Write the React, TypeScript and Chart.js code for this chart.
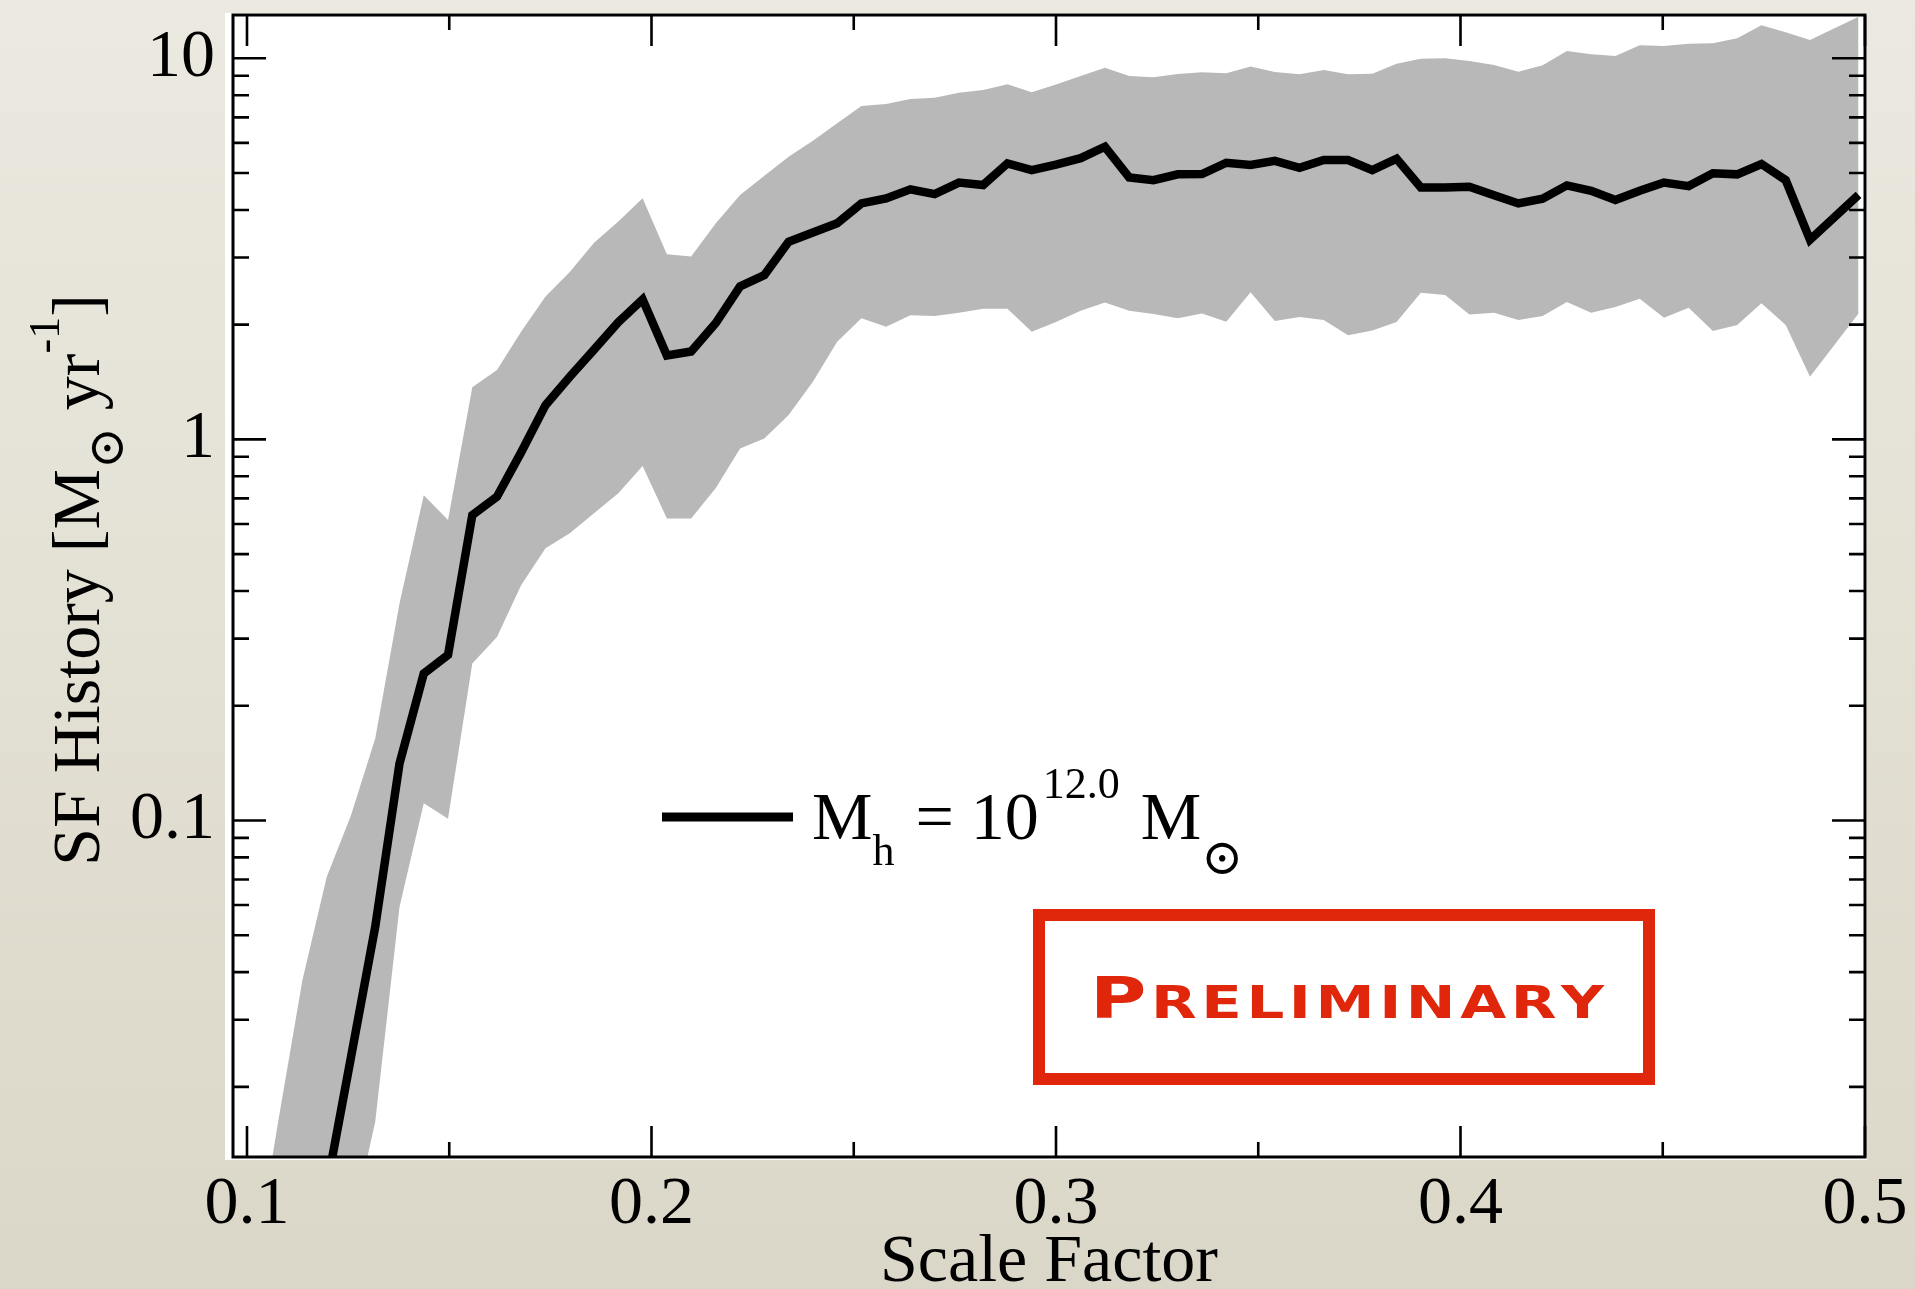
import React, { useEffect, useRef } from 'react';
import { Chart, registerables } from 'chart.js';

Chart.register(...registerables);

// ---------- data ----------
const SCALE_FACTOR = [
  0.1016, 0.1077, 0.1137, 0.1197, 0.1257, 0.1317, 0.1377, 0.1437, 0.1497, 0.1557,
  0.1618, 0.1678, 0.1738, 0.1798, 0.1858, 0.1918, 0.1978, 0.2038, 0.2098, 0.2159,
  0.2219, 0.2279, 0.2339, 0.2399, 0.2459, 0.2519, 0.2580, 0.2640, 0.2700, 0.2760,
  0.2820, 0.2880, 0.2940, 0.3000, 0.3061, 0.3121, 0.3181, 0.3241, 0.3301, 0.3361,
  0.3421, 0.3481, 0.3541, 0.3602, 0.3662, 0.3722, 0.3782, 0.3842, 0.3902, 0.3962,
  0.4022, 0.4083, 0.4143, 0.4203, 0.4263, 0.4323, 0.4383, 0.4443, 0.4503, 0.4564,
  0.4624, 0.4684, 0.4744, 0.4804, 0.4864, 0.4984,
];

const SFR_MEAN = [
  null, null, null, 0.0109, 0.0239, 0.0526, 0.141, 0.243, 0.272, 0.633,
  0.707, 0.926, 1.23, 1.46, 1.72, 2.03, 2.33, 1.66, 1.70, 2.02,
  2.52, 2.70, 3.30, 3.49, 3.69, 4.16, 4.29, 4.53, 4.40, 4.72,
  4.65, 5.30, 5.09, 5.26, 5.47, 5.86, 4.87, 4.79, 4.96, 4.97,
  5.32, 5.25, 5.38, 5.16, 5.41, 5.41, 5.09, 5.45, 4.58, 4.58,
  4.60, 4.37, 4.16, 4.28, 4.64, 4.49, 4.25, 4.49, 4.72, 4.62,
  4.99, 4.96, 5.28, 4.79, 3.34, 4.38,
];

const SFR_UPPER = [
  0.00652, 0.0162, 0.0381, 0.0711, 0.103, 0.164, 0.371, 0.714, 0.614, 1.37,
  1.52, 1.92, 2.37, 2.75, 3.28, 3.73, 4.29, 3.06, 3.02, 3.69,
  4.38, 4.92, 5.52, 6.08, 6.75, 7.50, 7.59, 7.82, 7.88, 8.12,
  8.26, 8.55, 8.14, 8.53, 8.99, 9.45, 8.99, 8.92, 9.10, 9.19,
  9.13, 9.51, 9.21, 9.08, 9.32, 9.08, 9.11, 9.68, 9.98, 10.0,
  9.84, 9.60, 9.22, 9.59, 10.45, 10.24, 10.14, 10.82, 10.77, 10.92,
  10.95, 11.28, 12.21, 11.70, 11.17, 12.86,
];

const SFR_LOWER = [
  0.0005, 0.001, 0.002, 0.004, 0.00836, 0.0162, 0.0593, 0.111, 0.101, 0.258,
  0.303, 0.415, 0.518, 0.567, 0.640, 0.722, 0.851, 0.620, 0.620, 0.745,
  0.947, 1.006, 1.158, 1.416, 1.804, 2.078, 1.975, 2.116, 2.107, 2.149,
  2.202, 2.202, 1.916, 2.032, 2.176, 2.288, 2.176, 2.132, 2.078, 2.141,
  2.035, 2.431, 2.044, 2.094, 2.057, 1.875, 1.932, 2.032, 2.425, 2.391,
  2.128, 2.149, 2.057, 2.107, 2.293, 2.149, 2.225, 2.339, 2.086, 2.215,
  1.924, 1.995, 2.275, 1.995, 1.460, 2.141,
];

const X_MIN = 0.09654;
const X_MAX = 0.5;
const Y_MIN = 0.01309;
const Y_MAX = 12.99;

const X_MAJOR = [0.1, 0.2, 0.3, 0.4, 0.5];
const X_MAJOR_LABELS = ['0.1', '0.2', '0.3', '0.4', '0.5'];
const X_MINOR = [0.15, 0.25, 0.35, 0.45];

const Y_MAJOR = [0.1, 1, 10];
const Y_MAJOR_LABELS = ['0.1', '1', '10'];
const Y_MINOR = [
  0.02, 0.03, 0.04, 0.05, 0.06, 0.07, 0.08, 0.09,
  0.2, 0.3, 0.4, 0.5, 0.6, 0.7, 0.8, 0.9,
  2, 3, 4, 5, 6, 7, 8, 9,
];

const X_TITLE = 'Scale Factor';
const STAMP_TEXT = 'PRELIMINARY';

// ---------- styling ----------
const SERIF = '"Liberation Serif", "Times New Roman", "DejaVu Serif", serif';
const SYMBOL = '"DejaVu Serif", "DejaVu Sans", serif';
const STAMP_RED = '#e0270b';
const BAND_GREY = '#b8b8b8';

type Piece = { text: string; size: number; dy: number; font?: string; gap?: number };

const Y_TITLE_PIECES: Piece[] = [
  { text: 'SF History [M', size: 68, dy: 0 },
  { text: '\u2299', size: 50, dy: 24, font: SYMBOL },
  { text: ' yr', size: 68, dy: 0 },
  { text: '-1', size: 44, dy: -40 },
  { text: ']', size: 68, dy: 0 },
];

const LEGEND_PIECES: Piece[] = [
  { text: 'M', size: 68, dy: 0 },
  { text: 'h', size: 44, dy: 26 },
  { text: ' = 10', size: 68, dy: 0, gap: 4 },
  { text: '12.0', size: 44, dy: -41, gap: 4 },
  { text: ' M', size: 68, dy: 0, gap: 4 },
  { text: '\u2299', size: 50, dy: 35, font: SYMBOL },
];

function piecesWidth(ctx: CanvasRenderingContext2D, pieces: Piece[]) {
  let w = 0;
  for (const p of pieces) {
    ctx.font = `${p.size}px ${p.font || SERIF}`;
    w += (p.gap || 0) + ctx.measureText(p.text).width;
  }
  return w;
}

function drawPieces(ctx: CanvasRenderingContext2D, pieces: Piece[], x: number, y: number) {
  let cx = x;
  for (const p of pieces) {
    cx += p.gap || 0;
    ctx.font = `${p.size}px ${p.font || SERIF}`;
    ctx.fillText(p.text, cx, y + p.dy);
    cx += ctx.measureText(p.text).width;
  }
}

const decorPlugin = {
  id: 'decor',
  beforeDraw(chart: any) {
    const { ctx, width, height, chartArea: a } = chart;
    ctx.save();
    const g = ctx.createLinearGradient(0, 0, 0, height);
    g.addColorStop(0, '#ebe9e0');
    g.addColorStop(1, '#dbd7c8');
    ctx.fillStyle = g;
    ctx.fillRect(0, 0, width, height);
    ctx.fillStyle = '#ffffff';
    ctx.fillRect(a.left - 8, a.top - 2, a.right - a.left + 10, a.bottom - a.top + 5);
    ctx.restore();
  },
  afterDatasetsDraw(chart: any) {
    const { ctx, chartArea: a, scales } = chart;
    const xs = scales.x;
    const ys = scales.y;
    ctx.save();
    ctx.strokeStyle = '#000';
    ctx.lineWidth = 2.6;
    ctx.lineCap = 'butt';
    ctx.beginPath();
    const yTick = (v: number, len: number) => {
      const p = ys.getPixelForValue(v);
      if (p < a.top || p > a.bottom) return;
      ctx.moveTo(a.left, p);
      ctx.lineTo(a.left + len, p);
      ctx.moveTo(a.right, p);
      ctx.lineTo(a.right - len, p);
    };
    const xTick = (v: number, len: number) => {
      const p = xs.getPixelForValue(v);
      if (p < a.left || p > a.right) return;
      ctx.moveTo(p, a.bottom);
      ctx.lineTo(p, a.bottom - len);
      ctx.moveTo(p, a.top);
      ctx.lineTo(p, a.top + len);
    };
    Y_MAJOR.forEach((v) => yTick(v, 33));
    Y_MINOR.forEach((v) => yTick(v, 16));
    X_MAJOR.forEach((v) => xTick(v, 31));
    X_MINOR.forEach((v) => xTick(v, 15));
    ctx.stroke();
    ctx.lineWidth = 3;
    ctx.strokeRect(a.left, a.top, a.right - a.left, a.bottom - a.top);
    ctx.restore();
  },
  afterDraw(chart: any) {
    const { ctx, chartArea: a } = chart;
    ctx.save();
    ctx.fillStyle = '#000';
    ctx.textBaseline = 'alphabetic';
    ctx.textAlign = 'left';

    // x-axis title
    ctx.font = `68px ${SERIF}`;
    ctx.textAlign = 'center';
    ctx.fillText(X_TITLE, (a.left + a.right) / 2, 1281);
    ctx.textAlign = 'left';

    // y-axis title (rotated)
    const tw = piecesWidth(ctx, Y_TITLE_PIECES);
    ctx.save();
    ctx.translate(99, 580);
    ctx.rotate(-Math.PI / 2);
    drawPieces(ctx, Y_TITLE_PIECES, -tw / 2, 0);
    ctx.restore();

    // legend
    ctx.fillRect(662, 812.5, 131, 9);
    drawPieces(ctx, LEGEND_PIECES, 812, 839);

    // preliminary stamp
    ctx.strokeStyle = STAMP_RED;
    ctx.lineWidth = 12;
    ctx.strokeRect(1039, 915, 610, 164);
    ctx.fillStyle = STAMP_RED;
    const chars = STAMP_TEXT.split('');
    const fonts = chars.map((_, i) => (i === 0 ? `bold 57px "DejaVu Sans", sans-serif` : `bold 44px "DejaVu Sans", sans-serif`));
    const stretch = 1.35;
    const widths = chars.map((c, i) => {
      ctx.font = fonts[i];
      return ctx.measureText(c).width * stretch;
    });
    const total = widths.reduce((s, w) => s + w, 0);
    const startX = 1090;
    const endX = 1604;
    const gap = (endX - startX - total) / (chars.length - 1);
    let cx = startX;
    chars.forEach((c, i) => {
      ctx.font = fonts[i];
      ctx.save();
      ctx.translate(cx, 1018);
      ctx.scale(stretch, 1);
      ctx.fillText(c, 0, 0);
      ctx.restore();
      cx += widths[i] + gap;
    });
    ctx.restore();
  },
};

function xLabel(v: number) {
  const i = X_MAJOR.findIndex((m) => Math.abs(m - v) < 1e-9);
  return i >= 0 ? X_MAJOR_LABELS[i] : null;
}

function yLabel(v: number) {
  const i = Y_MAJOR.findIndex((m) => Math.abs(m - v) / m < 1e-6);
  return i >= 0 ? Y_MAJOR_LABELS[i] : null;
}

export default function App() {
  const ref = useRef<HTMLCanvasElement | null>(null);

  useEffect(() => {
    const canvas = ref.current;
    if (!canvas) return;
    const meanPts = SCALE_FACTOR.map((x, i) => ({ x, y: SFR_MEAN[i] }));
    const upperPts = SCALE_FACTOR.map((x, i) => ({ x, y: SFR_UPPER[i] }));
    const lowerPts = SCALE_FACTOR.map((x, i) => ({ x, y: SFR_LOWER[i] }));

    const chart = new Chart(canvas, {
      type: 'line',
      data: {
        datasets: [
          {
            label: 'mean',
            data: meanPts as any,
            borderColor: '#000000',
            borderWidth: 8.5,
            borderJoinStyle: 'miter',
            borderCapStyle: 'butt',
            pointRadius: 0,
            fill: false,
            tension: 0,
            clip: 0,
          },
          {
            label: 'upper',
            data: upperPts as any,
            borderColor: 'rgba(0,0,0,0)',
            borderWidth: 1,
            pointRadius: 0,
            backgroundColor: BAND_GREY,
            fill: '+1',
            tension: 0,
            clip: 0,
          },
          {
            label: 'lower',
            data: lowerPts as any,
            borderColor: 'rgba(0,0,0,0)',
            borderWidth: 1,
            pointRadius: 0,
            fill: false,
            tension: 0,
            clip: 0,
          },
        ],
      },
      options: {
        animation: false,
        responsive: false,
        devicePixelRatio: 1,
        events: [],
        layout: { padding: { left: 0, top: 15, right: 50, bottom: 0 } },
        plugins: {
          legend: { display: false },
          tooltip: { enabled: false },
          title: { display: false },
        },
        scales: {
          x: {
            type: 'linear',
            min: X_MIN,
            max: X_MAX,
            bounds: 'data',
            afterBuildTicks: (s: any) => {
              s.ticks = [X_MIN, ...X_MAJOR].map((v) => ({ value: v }));
            },
            afterFit: (s: any) => {
              s.height = 132;
            },
            grid: { display: false, drawTicks: false, tickLength: 0 },
            border: { display: false },
            ticks: {
              autoSkip: false,
              maxRotation: 0,
              minRotation: 0,
              padding: 7,
              color: '#000',
              font: { family: SERIF, size: 68 },
              callback: (v: any) => xLabel(Number(v)),
            },
          },
          y: {
            type: 'logarithmic',
            min: Y_MIN,
            max: Y_MAX,
            bounds: 'data',
            afterBuildTicks: (s: any) => {
              s.ticks = [Y_MIN, ...Y_MAJOR, Y_MAX].map((v) => ({ value: v }));
            },
            afterFit: (s: any) => {
              s.width = 233;
            },
            grid: { display: false, drawTicks: true, tickLength: 18 },
            border: { display: false },
            ticks: {
              autoSkip: false,
              padding: 0,
              color: '#000',
              font: { family: SERIF, size: 68, lineHeight: 0.2 },
              callback: (v: any) => yLabel(Number(v)),
            },
          },
        },
      } as any,
      plugins: [decorPlugin],
    });

    return () => {
      chart.destroy();
    };
  }, []);

  return (
    <div style={{ position: 'fixed', left: 0, top: 0, width: 1915, height: 1289, overflow: 'hidden' }}>
      <canvas ref={ref} width={1915} height={1289} style={{ display: 'block', width: 1915, height: 1289 }} />
    </div>
  );
}
